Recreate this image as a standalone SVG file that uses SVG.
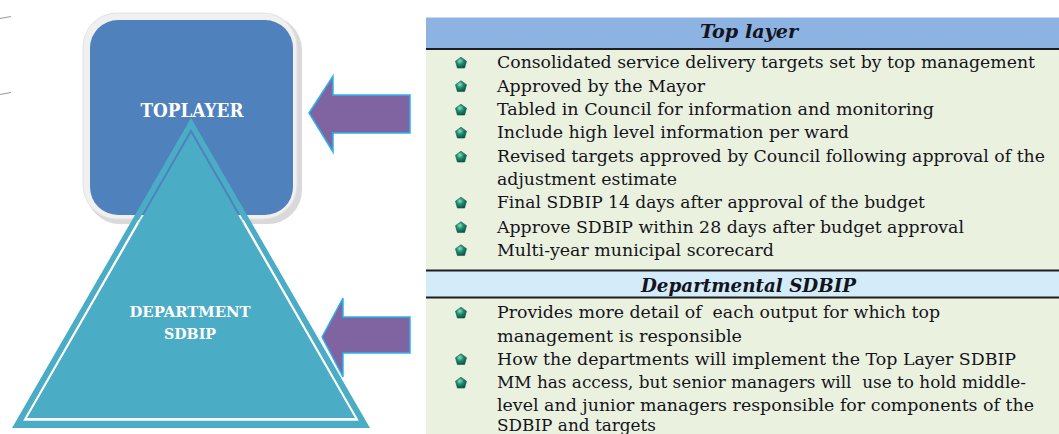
<svg xmlns="http://www.w3.org/2000/svg" width="1059" height="434" viewBox="0 0 1059 434">
<style>
.t{font-family:"DejaVu Serif","Liberation Serif",serif;font-size:17.5px;fill:#14141c}
.h{font-family:"DejaVu Serif","Liberation Serif",serif;font-size:18px;font-weight:bold;font-style:italic;fill:#14141c}
.w{font-family:"DejaVu Serif","Liberation Serif",serif;font-weight:bold;fill:#ffffff}
.arr{fill:#8064A2;stroke:#2AB4EC;stroke-width:1.5;stroke-linejoin:miter}
.rule{stroke:#1e1e1e;stroke-width:2}
</style>
<defs>
<radialGradient id="bg" cx="0.4" cy="0.35" r="0.7">
<stop offset="0" stop-color="#8fe0c0"/>
<stop offset="0.45" stop-color="#1f8c70"/>
<stop offset="1" stop-color="#0b4d40"/>
</radialGradient>
<symbol id="bul" viewBox="-5 -5 10 10" overflow="visible">
<polygon points="0,-4.8 4.6,-1.5 3,4.2 -3,4.2 -4.6,-1.5" fill="url(#bg)" stroke="#0d5a4a" stroke-width="0.5" stroke-linejoin="round"/>
</symbol>
<clipPath id="belowSq"><rect x="0" y="220" width="420" height="214"/></clipPath>
</defs>
<rect width="1059" height="434" fill="#ffffff"/>
<path d="M0 18.5 L11 16.5 M0 94.5 L11 92.5" stroke="#9a9a9a" stroke-width="1" fill="none"/>

<g id="table">
<rect x="426" y="17" width="633" height="417" fill="#EBF1DF"/>
<rect x="426" y="17" width="633" height="32" fill="#8DB3E2"/>
<line x1="426" y1="17.5" x2="1059" y2="17.5" stroke="#c9d8ee" stroke-width="1"/>
<line class="rule" x1="426" y1="49" x2="1059" y2="49"/>
<rect x="426" y="271" width="633" height="26" fill="#D4ECFA"/>
<line class="rule" x1="426" y1="270.5" x2="1059" y2="270.5"/>
<line class="rule" x1="426" y1="297.5" x2="1059" y2="297.5"/>
<text class="h" x="749" y="38" text-anchor="middle" textLength="98" lengthAdjust="spacingAndGlyphs">Top layer</text>
<text class="h" x="748.5" y="292" text-anchor="middle" textLength="215" lengthAdjust="spacingAndGlyphs">Departmental SDBIP</text>
<g id="bullets">
<use href="#bul" x="455" y="57" width="12" height="12"/>
<use href="#bul" x="455" y="80.5" width="12" height="12"/>
<use href="#bul" x="455" y="104" width="12" height="12"/>
<use href="#bul" x="455" y="127" width="12" height="12"/>
<use href="#bul" x="455" y="151" width="12" height="12"/>
<use href="#bul" x="455" y="197" width="12" height="12"/>
<use href="#bul" x="455" y="221.5" width="12" height="12"/>
<use href="#bul" x="455" y="244.5" width="12" height="12"/>
<use href="#bul" x="455" y="307" width="12" height="12"/>
<use href="#bul" x="455" y="353.5" width="12" height="12"/>
<use href="#bul" x="455" y="377" width="12" height="12"/>
</g>
<text class="t" x="497" y="68" textLength="538" lengthAdjust="spacingAndGlyphs">Consolidated service delivery targets set by top management</text>
<text class="t" x="497" y="91.5" textLength="208" lengthAdjust="spacingAndGlyphs">Approved by the Mayor</text>
<text class="t" x="497" y="115" textLength="437" lengthAdjust="spacingAndGlyphs">Tabled in Council for information and monitoring</text>
<text class="t" x="497" y="138" textLength="352" lengthAdjust="spacingAndGlyphs">Include high level information per ward</text>
<text class="t" x="497" y="162" textLength="548" lengthAdjust="spacingAndGlyphs">Revised targets approved by Council following approval of the</text>
<text class="t" x="497" y="185" textLength="180" lengthAdjust="spacingAndGlyphs">adjustment estimate</text>
<text class="t" x="497" y="208" textLength="428" lengthAdjust="spacingAndGlyphs">Final SDBIP 14 days after approval of the budget</text>
<text class="t" x="497" y="232.5" textLength="467" lengthAdjust="spacingAndGlyphs">Approve SDBIP within 28 days after budget approval</text>
<text class="t" x="497" y="256" textLength="277" lengthAdjust="spacingAndGlyphs">Multi-year municipal scorecard</text>
<text class="t" x="497" y="318" textLength="443" lengthAdjust="spacingAndGlyphs" xml:space="preserve">Provides more detail of  each output for which top</text>
<text class="t" x="497" y="341.5" textLength="245" lengthAdjust="spacingAndGlyphs">management is responsible</text>
<text class="t" x="497" y="364.5" textLength="519" lengthAdjust="spacingAndGlyphs">How the departments will implement the Top Layer SDBIP</text>
<text class="t" x="497" y="388" textLength="529" lengthAdjust="spacingAndGlyphs" xml:space="preserve">MM has access, but senior managers will  use to hold middle-</text>
<text class="t" x="497" y="411" textLength="537" lengthAdjust="spacingAndGlyphs">level and junior managers responsible for components of the</text>
<text class="t" x="497" y="431" textLength="159" lengthAdjust="spacingAndGlyphs">SDBIP and targets</text>
</g>

<g id="toplayer">
<rect x="86" y="16" width="216" height="208" rx="34" fill="#d9d9d9"/>
<rect x="83" y="13" width="214" height="206" rx="34" fill="#F0F0F0" stroke="#e2e2e2" stroke-width="1"/>
<rect x="90" y="20" width="203" height="195" rx="28" fill="#4F81BD"/>
<text class="w" x="192" y="117" font-size="18" text-anchor="middle" textLength="103" lengthAdjust="spacingAndGlyphs">TOPLAYER</text>
</g>

<g id="department">
<path d="M12 428 L191 118 L370 428 Z M24 420 L358 420 L191 129 Z" fill="#4BACC6" fill-rule="evenodd"/>
<polygon points="27,418 355,418 191,133" fill="#4BACC6"/>
<polygon points="24.5,420 357.5,420 191,129.5" fill="none" stroke="#ffffff" stroke-width="1.6" clip-path="url(#belowSq)"/>
<text class="w" x="190" y="317" font-size="14" text-anchor="middle" textLength="121" lengthAdjust="spacingAndGlyphs">DEPARTMENT</text>
<text class="w" x="190" y="339" font-size="14" text-anchor="middle" textLength="52" lengthAdjust="spacingAndGlyphs">SDBIP</text>
</g>

<g id="connectors">
<polygon class="arr" points="309,113 333,76 333,95 410,95 410,133 333,133 333,152"/>
<polygon class="arr" points="322,337 343,298 343,317 410,317 410,353 343,353 343,377"/>
</g>
</svg>
